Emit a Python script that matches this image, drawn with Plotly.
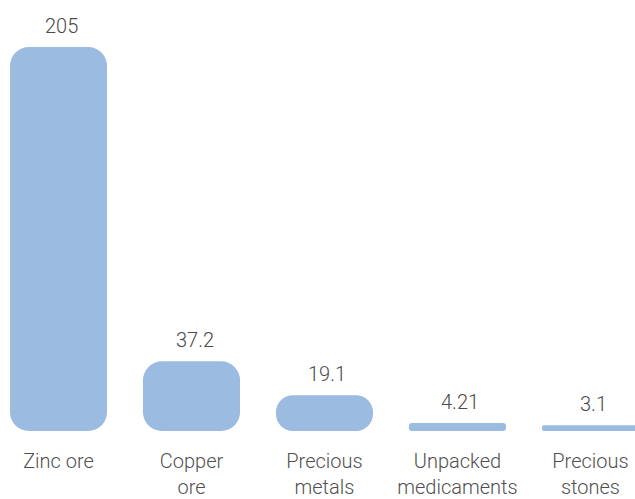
import plotly.graph_objects as go

categories = ["Zinc ore", "Copper<br>ore", "Precious<br>metals", "Unpacked<br>medicaments", "Precious<br>stones"]
values = [205, 37.2, 19.1, 4.21, 3.1]
value_labels = ["205", "37.2", "19.1", "4.21", "3.1"]

bar_color = "#9bbbe1"
font_family = "Roboto"
xs = list(range(len(categories)))

fig = go.Figure()
# explicit base makes Plotly round both ends of each bar
fig.add_trace(go.Bar(x=xs, y=values, base=[0] * len(values), width=0.73,
                     marker=dict(color=bar_color, cornerradius=19, line=dict(width=0)),
                     hoverinfo="skip"))

for x, v, t in zip(xs, values, value_labels):
    fig.add_annotation(x=x, y=v, text=t, showarrow=False, yanchor="bottom", yshift=7, xshift=3,
                       font=dict(family=font_family, size=20, color="#4a4a4a", weight=300))

fig.update_layout(
    width=635, height=499,
    margin=dict(l=0, r=0, t=0, b=68),
    paper_bgcolor="white", plot_bgcolor="white",
    showlegend=False,
    xaxis=dict(range=[-0.44, 4.335], tickvals=xs, ticktext=categories,
               showgrid=False, zeroline=False, showline=False,
               ticks="outside", ticklen=12, tickcolor="rgba(0,0,0,0)",
               tickfont=dict(family=font_family, size=20, color="#505050", weight=300),
               automargin=False, fixedrange=True),
    yaxis=dict(range=[0, 230.1], visible=False, automargin=False, fixedrange=True),
)

fig.write_html("out.html", config={"displayModeBar": False},
               post_script="document.body.style.margin='0px';")
